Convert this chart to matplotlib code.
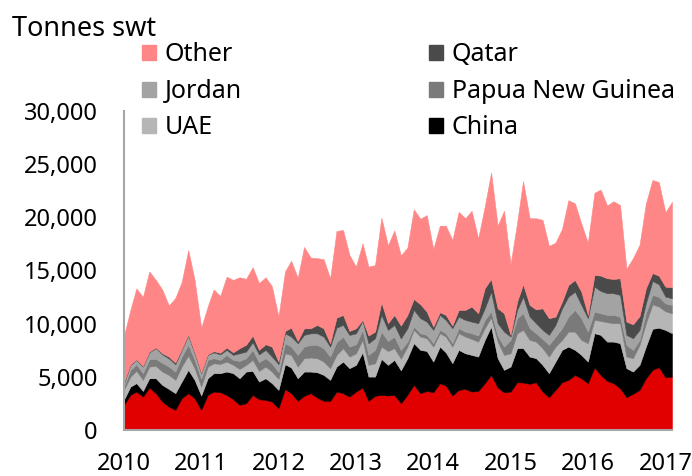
import matplotlib
matplotlib.use('Agg')
import matplotlib.pyplot as plt
from matplotlib.patches import Patch
import pandas as pd

plt.rcParams['font.family'] = ['Noto Sans', 'DejaVu Sans']

# monthly tonnes swt, Jan 2010 .. Feb 2017
base = [2350, 3290, 3600, 3130, 3980, 3450, 2660, 2190, 1880, 2980, 3450, 2980,
        1880, 3290, 3600, 3540, 3290, 2880, 2350, 2510, 3290, 2880, 2820, 2660,
        2040, 3850, 3450, 2730, 3200, 3450, 3040, 2730, 2730, 3600, 3450, 3130,
        3600, 3980, 2730, 3200, 3290, 3230, 3290, 2500, 3300, 4230, 3450, 3660,
        3540, 4390, 4170, 3230, 3760, 3850, 3600, 3660, 4390, 5170, 3980, 3540,
        3600, 4480, 4450, 4330, 4480, 3600, 3070, 3760, 4480, 4700, 5170, 4850,
        4390, 5860, 5170, 4600, 4390, 3920, 3070, 3390, 3760, 4850, 5640, 5900,
        4950, 5010]
china = [480, 780, 790, 530, 870, 1400, 1570, 1660, 1570, 1560, 2190, 1720,
         1350, 1560, 1730, 1790, 2190, 2450, 2500, 2970, 2250, 1660, 2030, 1730,
         1720, 2320, 2410, 2120, 2280, 2030, 2380, 2440, 1970, 2350, 2970, 2670,
         2510, 3310, 2280, 1810, 3380, 2880, 3290, 3100, 3440, 3920, 4070, 3760,
         2880, 3440, 3120, 3040, 3760, 3350, 3450, 3230, 4070, 4540, 2760, 2100,
         2350, 3200, 3230, 2560, 2260, 2510, 2260, 2660, 3040, 3130, 2350, 2200,
         2030, 3230, 3760, 3700, 3910, 4230, 2730, 2090, 2350, 2980, 3860, 3700,
         4450, 4080]
uae = [930, 940, 1160, 1040, 1100, 1160, 1250, 1320, 1250, 1410, 1350, 1100,
       840, 1100, 930, 870, 940, 780, 880, 630, 1040, 1000, 1100, 1090,
       1030, 1030, 1190, 1100, 1260, 1320, 1320, 1250, 1100, 1100, 1260, 1090,
       1090, 1170, 1100, 1250, 1160, 1300, 1100, 1100, 1090, 1250, 1250, 1200,
       1410, 1260, 1480, 1560, 1570, 1570, 1500, 1410, 1100, 850, 1560, 1410,
       1250, 1410, 1720, 1570, 1560, 1570, 1560, 1410, 940, 1410, 1720, 1410,
       1730, 1250, 1320, 1820, 1730, 1880, 1090, 1260, 1880, 2200, 2300, 2000,
       1750, 1880]
png = [310, 630, 620, 630, 690, 660, 820, 780, 780, 940, 1010, 780,
       720, 630, 480, 380, 630, 470, 750, 630, 940, 820, 790, 780,
       630, 940, 780, 1100, 1090, 1190, 1250, 1260, 1090, 1190, 1090, 940,
       850, 940, 940, 1260, 1410, 950, 1090, 800, 470, 310, 320, 310,
       320, 310, 320, 320, 470, 470, 540, 570, 780, 560, 570, 780,
       1260, 1410, 1570, 1100, 790, 870, 1100, 940, 1100, 1410, 2040, 2040,
       1090, 780, 720, 690, 780, 620, 1100, 780, 470, 940, 900, 900,
       750, 780]
jordan = [310, 470, 410, 620, 650, 1010, 800, 770, 690, 630, 870, 620,
          540, 470, 550, 520, 470, 470, 720, 620, 720, 740, 780, 630,
          750, 940, 940, 1090, 1100, 1090, 1090, 1090, 940, 1370, 1100, 1100,
          1030, 840, 1090, 1100, 1570, 1040, 1100, 1100, 1260, 1570, 1410, 1250,
          1250, 1410, 1250, 1410, 1090, 1100, 1090, 1160, 1090, 1880, 1160, 1410,
          310, 780, 1560, 1090, 940, 850, 940, 1100, 1870, 1880, 1720, 1250,
          1260, 2350, 2100, 2040, 2040, 2040, 940, 1100, 940, 930, 1300, 1200,
          630, 630]
qatar = [70, 40, 40, 50, 60, 70, 100, 170, 160, 80, 80, 60,
         50, 50, 110, 150, 220, 240, 480, 640, 630, 420, 530, 940,
         250, 220, 840, 220, 620, 470, 790, 780, 310, 940, 940, 370,
         470, 100, 730, 620, 1190, 630, 940, 1200, 1250, 1030, 1310, 940,
         310, 250, 470, 250, 630, 940, 1410, 940, 1890, 1190, 1400, 1730,
         160, 780, 1160, 1100, 1300, 2030, 1570, 780, 630, 1100, 1100, 1250,
         310, 1100, 1440, 1410, 1340, 1570, 1250, 1300, 1300, 1420, 750, 800,
         940, 1030]
other = [4350, 5150, 6680, 6500, 7550, 6350, 6000, 4810, 6070, 6300, 7950, 6840,
         4220, 4500, 5800, 5350, 6660, 6810, 6670, 6200, 6430, 6280, 6300, 5670,
         4230, 5600, 6290, 5940, 7650, 6650, 6280, 6500, 6110, 8150, 7990, 7150,
         5800, 7210, 6480, 6260, 7950, 7320, 7940, 6600, 6340, 8440, 8040, 9080,
         7290, 8140, 8390, 8040, 9220, 8620, 9010, 7030, 7680, 10010, 7770, 9630,
         6670, 7440, 9710, 8150, 8570, 8320, 6800, 6950, 6840, 7970, 7200, 6400,
         6790, 7730, 8090, 6840, 7310, 6890, 4970, 6230, 6700, 7980, 8750, 8800,
         6980, 8040]

months = pd.date_range('2010-01-01', periods=len(base), freq='MS')
years = [str(y) for y in range(2010, 2018)]

series = [base, china, uae, png, jordan, qatar, other]
colors = ['#e00000', '#000000', '#b6b6b6', '#7a7a7a', '#a3a3a3', '#4a4a4a', '#ff8686']

fig = plt.figure(figsize=(6.92, 4.76), dpi=100)
ax = fig.add_axes([0.179, 0.097, 0.792, 0.670])

ax.stackplot(months, *series, colors=colors, linewidth=0.4,
             edgecolor='face')

ax.set_xlim(months[0], months[-1])
ax.set_ylim(0, 30000)
ax.set_yticks(range(0, 30001, 5000))
ax.set_yticklabels([f"{v:,}" for v in range(0, 30001, 5000)])
ax.set_xticks(pd.to_datetime([y + '-01-01' for y in years]))
ax.set_xticklabels(years)
ax.tick_params(axis='both', length=0, labelsize=17)
ax.tick_params(axis='y', pad=19)
ax.tick_params(axis='x', pad=16)

for s in ['top', 'right']:
    ax.spines[s].set_visible(False)
for s in ['left', 'bottom']:
    ax.spines[s].set_color('#a6a6a6')
    ax.spines[s].set_linewidth(1.5)

fig.text(0.017, 0.94, "Tonnes swt", fontsize=19.5, va='center', ha='left')

handles = [Patch(color=colors[6], label='Other'),
           Patch(color=colors[4], label='Jordan'),
           Patch(color=colors[2], label='UAE'),
           Patch(color=colors[5], label='Qatar'),
           Patch(color=colors[3], label='Papua New Guinea'),
           Patch(color=colors[1], label='China')]
fig.legend(handles=handles, ncol=2, loc='upper left',
           bbox_to_anchor=(0.187, 0.937), frameon=False, fontsize=18,
           handlelength=0.55, handleheight=0.55, handletextpad=0.35,
           labelspacing=0.46, columnspacing=7.5, borderpad=0)

fig.savefig('out.png', dpi=100)
